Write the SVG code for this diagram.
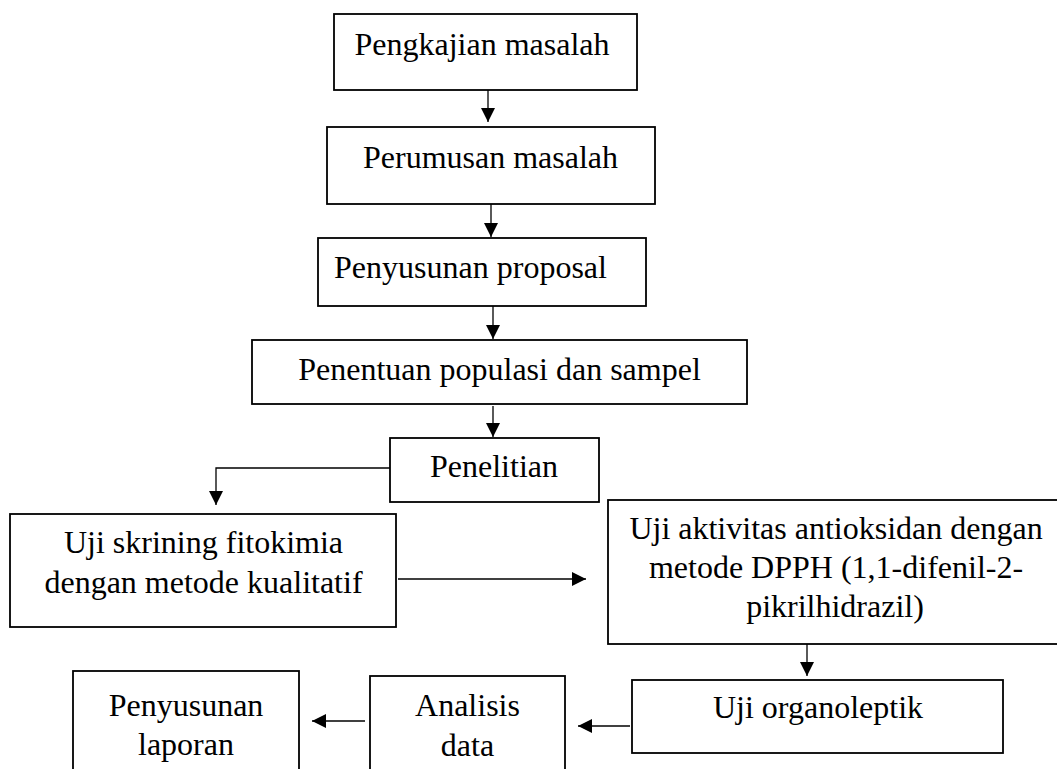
<svg xmlns="http://www.w3.org/2000/svg" width="1057" height="769" viewBox="0 0 1057 769">
<style>
.box{fill:#fff;stroke:#000;stroke-width:1.8}
.t{font-family:"Liberation Serif","Times New Roman",serif;font-size:32px;fill:#000;text-anchor:middle}
.c{fill:none;stroke:#000;stroke-width:1.3}
</style>
<defs>
<marker id="ah" viewBox="0 0 14 14" refX="14" refY="7" markerWidth="14" markerHeight="14" markerUnits="userSpaceOnUse" orient="auto">
<path d="M0,0 L14,7 L0,14 Z" fill="#000"/>
</marker>
</defs>
<rect width="1057" height="769" fill="#fff"/>
<g id="n1"><rect class="box" x="334" y="14" width="303" height="76"/><text class="t" x="482" y="55">Pengkajian masalah</text></g>
<g id="n2"><rect class="box" x="327" y="127" width="328" height="77"/><text class="t" x="490.5" y="168">Perumusan masalah</text></g>
<g id="n3"><rect class="box" x="318" y="238" width="328" height="68"/><text class="t" x="470.5" y="278">Penyusunan proposal</text></g>
<g id="n4"><rect class="box" x="252" y="340" width="495" height="64"/><text class="t" x="499.5" y="380">Penentuan populasi dan sampel</text></g>
<g id="n5"><rect class="box" x="390" y="438" width="209" height="64"/><text class="t" x="494" y="477">Penelitian</text></g>
<g id="n6"><rect class="box" x="10" y="514" width="386" height="113"/><text class="t" x="203.5" y="553">Uji skrining fitokimia</text><text class="t" x="203.5" y="593">dengan metode kualitatif</text></g>
<g id="n7"><rect class="box" x="608" y="500" width="460" height="144"/><text class="t" x="836" y="539">Uji aktivitas antioksidan dengan</text><text class="t" x="836" y="578">metode DPPH (1,1-difenil-2-</text><text class="t" x="835" y="617">pikrilhidrazil)</text></g>
<g id="n8"><rect class="box" x="632" y="680" width="371" height="73"/><text class="t" x="818" y="718">Uji organoleptik</text></g>
<g id="n9"><rect class="box" x="370" y="676" width="195" height="110"/><text class="t" x="467.5" y="716">Analisis</text><text class="t" x="467.5" y="756">data</text></g>
<g id="n10"><rect class="box" x="73" y="671" width="226" height="115"/><text class="t" x="186" y="716">Penyusunan</text><text class="t" x="186" y="755">laporan</text></g>
<g id="connectors">
<path class="c" d="M488,90 V122" marker-end="url(#ah)"/>
<path class="c" d="M491,204 V237" marker-end="url(#ah)"/>
<path class="c" d="M493,306 V339" marker-end="url(#ah)"/>
<path class="c" d="M493,406 V437" marker-end="url(#ah)"/>
<path class="c" d="M390,468 H216 V505" marker-end="url(#ah)"/>
<path class="c" d="M398,579 H586" marker-end="url(#ah)"/>
<path class="c" d="M807,644 V676" marker-end="url(#ah)"/>
<path class="c" d="M630,726 H578" marker-end="url(#ah)"/>
<path class="c" d="M365,721 H312" marker-end="url(#ah)"/>
</g>
</svg>
